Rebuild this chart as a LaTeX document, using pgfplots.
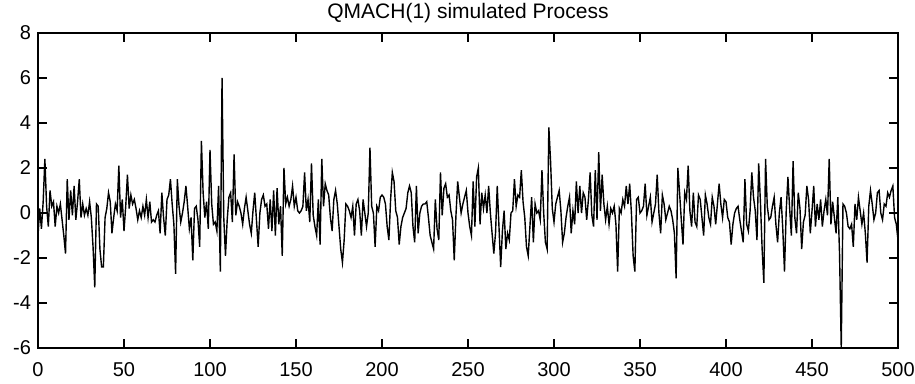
\documentclass[border=0pt]{standalone}
\usepackage{pgfplots}
\pgfplotsset{compat=1.18}
\usepackage{pgfplotstable}
\usepackage{fontspec}
\setmainfont{Liberation Sans}
\pgfplotstableread{
y
-1.0
0.2
-0.7
0.5
2.4
0.3
-0.6
1.0
0.3
0.5
-0.6
0.3
0.0
0.4
-0.3
-1.0
-1.8
1.5
-0.3
1.0
-0.1
1.2
-0.3
0.5
1.5
-0.2
0.4
-0.1
0.2
-0.1
0.5
-0.2
-1.5
-3.3
0.4
0.3
-1.6
-2.4
-2.4
-0.2
0.2
0.9
0.5
-0.9
-0.2
0.4
0.1
2.1
-0.2
0.6
-0.8
0.3
1.7
0.2
0.8
0.4
0.6
0.2
-0.3
0.1
-0.2
0.3
-0.1
0.6
-0.2
0.5
-0.4
-0.3
-0.4
-0.1
0.1
-0.9
0.9
-0.2
-1.0
0.6
0.8
1.5
0.4
-0.5
-2.7
1.5
0.3
-0.4
0.0
0.5
1.2
0.3
-0.7
-0.2
-2.1
0.2
0.3
-0.3
-1.5
3.2
0.9
-0.2
0.5
-0.7
2.8
0.4
-0.5
-0.4
-0.8
1.2
-2.6
6.0
-0.2
-1.9
-0.3
0.7
0.9
-0.4
2.6
-0.1
0.5
0.3
0.0
-0.5
0.2
0.7
0.1
-0.5
-0.9
0.1
0.9
-0.3
-1.5
0.0
0.6
0.8
0.3
0.4
-0.7
0.6
-0.8
1.0
-1.0
1.1
-0.5
0.3
-1.9
2.0
0.4
0.7
0.3
0.6
1.2
0.3
0.7
0.1
0.0
0.1
0.3
1.8
0.1
0.6
-0.4
2.2
-0.1
-0.6
-1.0
0.6
-1.4
2.4
0.3
1.3
1.0
0.8
-0.2
-0.8
0.6
1.0
0.4
-0.6
-1.6
-2.2
-1.2
0.4
0.3
0.1
-0.2
0.3
-1.0
0.4
0.6
0.1
-1.0
0.6
0.0
-0.6
0.0
2.9
0.3
0.0
-1.5
0.3
0.1
0.7
0.8
0.7
0.4
-0.6
-1.2
0.6
1.8
1.4
0.1
-0.2
-1.4
-0.6
-0.2
0.0
0.2
0.9
1.2
0.9
-0.6
-1.3
1.2
-0.9
0.0
0.3
0.4
0.4
0.5
-0.2
-1.0
-1.3
-1.6
0.6
-0.7
-1.2
1.8
-0.1
1.1
1.3
0.7
0.8
0.1
-0.3
-2.1
-0.1
1.4
0.7
0.0
0.4
0.7
1.0
0.0
-0.6
-1.0
1.4
-0.6
1.6
2.0
-0.5
0.9
0.2
0.8
0.0
1.2
0.0
-0.9
-1.8
-0.9
1.2
-0.6
-2.4
-0.8
0.1
-1.6
-0.9
-1.2
0.0
0.1
1.5
0.3
0.8
0.7
1.9
0.5
-0.2
-1.5
-1.9
-0.6
0.7
-1.3
0.4
0.0
0.1
-0.3
1.9
0.0
-1.3
-1.6
3.8
2.3
0.2
-0.4
0.4
0.7
1.0
0.1
-1.3
-0.9
-0.2
0.3
0.7
-0.9
0.1
-0.5
1.4
0.0
1.2
0.0
0.9
0.7
-0.3
0.6
1.8
-0.1
-0.6
1.9
-0.3
2.7
0.1
1.7
0.4
-0.3
0.3
-0.5
0.2
0.0
0.3
-0.5
-2.6
0.2
0.0
0.6
0.3
1.2
0.4
1.3
0.0
-1.9
-2.6
0.6
0.7
0.0
0.1
0.3
1.3
-0.1
0.3
0.7
-0.4
0.0
0.4
1.7
0.0
-0.9
0.8
0.4
-0.3
0.0
0.3
0.1
-0.3
-0.9
-2.9
2.0
0.9
-0.3
-1.4
0.9
0.6
2.1
0.1
-0.6
0.9
-0.4
-0.6
0.8
0.6
-0.2
-1.0
0.8
0.4
-0.2
-0.5
0.7
0.3
-0.5
0.4
1.3
0.4
-0.2
0.6
0.5
-0.2
-0.4
-1.4
-0.5
0.0
0.2
0.3
-0.3
-0.8
-1.3
1.5
-0.5
-0.8
0.1
1.8
0.7
0.1
-1.2
2.2
0.5
-1.6
-3.1
2.4
0.3
-0.3
-0.2
0.3
0.7
-0.5
-1.3
0.0
0.7
-0.7
-2.6
0.1
1.6
0.2
-1.0
2.3
-0.2
-0.9
0.9
0.2
-1.6
-0.4
-0.1
1.2
0.6
-0.9
0.1
1.2
-0.6
0.4
-0.3
0.6
-0.6
0.1
0.6
-0.1
2.4
-0.5
0.5
-0.2
-0.9
0.7
-1.8
-6.0
0.4
0.3
0.0
-0.6
-0.7
-0.5
-1.5
0.4
-0.3
0.7
0.1
-0.5
0.0
-0.9
-2.2
0.3
1.0
0.4
-0.3
0.0
0.9
1.0
0.0
-0.3
0.4
0.3
0.9
0.7
1.0
1.2
-0.2
-0.5
-1.2
}\series
\begin{document}
\begin{tikzpicture}[x=1pt,y=1pt]
\begin{axis}[
  name=ax,
  scale only axis,
  width=430pt, height=157.5pt,
  xmin=0, xmax=500, ymin=-6, ymax=8,
  xtick={0,50,...,500}, ytick={-6,-4,...,8},
  tick align=inside, major tick length=4.5pt,
  xtick pos=both, ytick pos=both,
  axis line style={line width=0.6pt},
  every tick/.style={black, line width=0.6pt},
  tick label style={font=\fontsize{10}{12}\selectfont},
  /pgf/number format/assume math mode=true,
  xticklabel style={anchor=base, yshift=-14pt},
  title={QMACH(1) simulated Process},
  every axis title/.style={font=\fontsize{10.5}{12}\selectfont, at={(0.5,1)}, anchor=base, yshift=7pt},
]
\addplot[black, line width=0.7pt, mark=none] table[x expr=\coordindex, y=y] {\series};
\end{axis}
\pgfresetboundingbox
\path[use as bounding box] ([xshift=-19pt, yshift=-17.5pt]ax.south west) rectangle ([xshift=8.5pt, yshift=16.5pt]ax.north east);
\end{tikzpicture}
\end{document}
